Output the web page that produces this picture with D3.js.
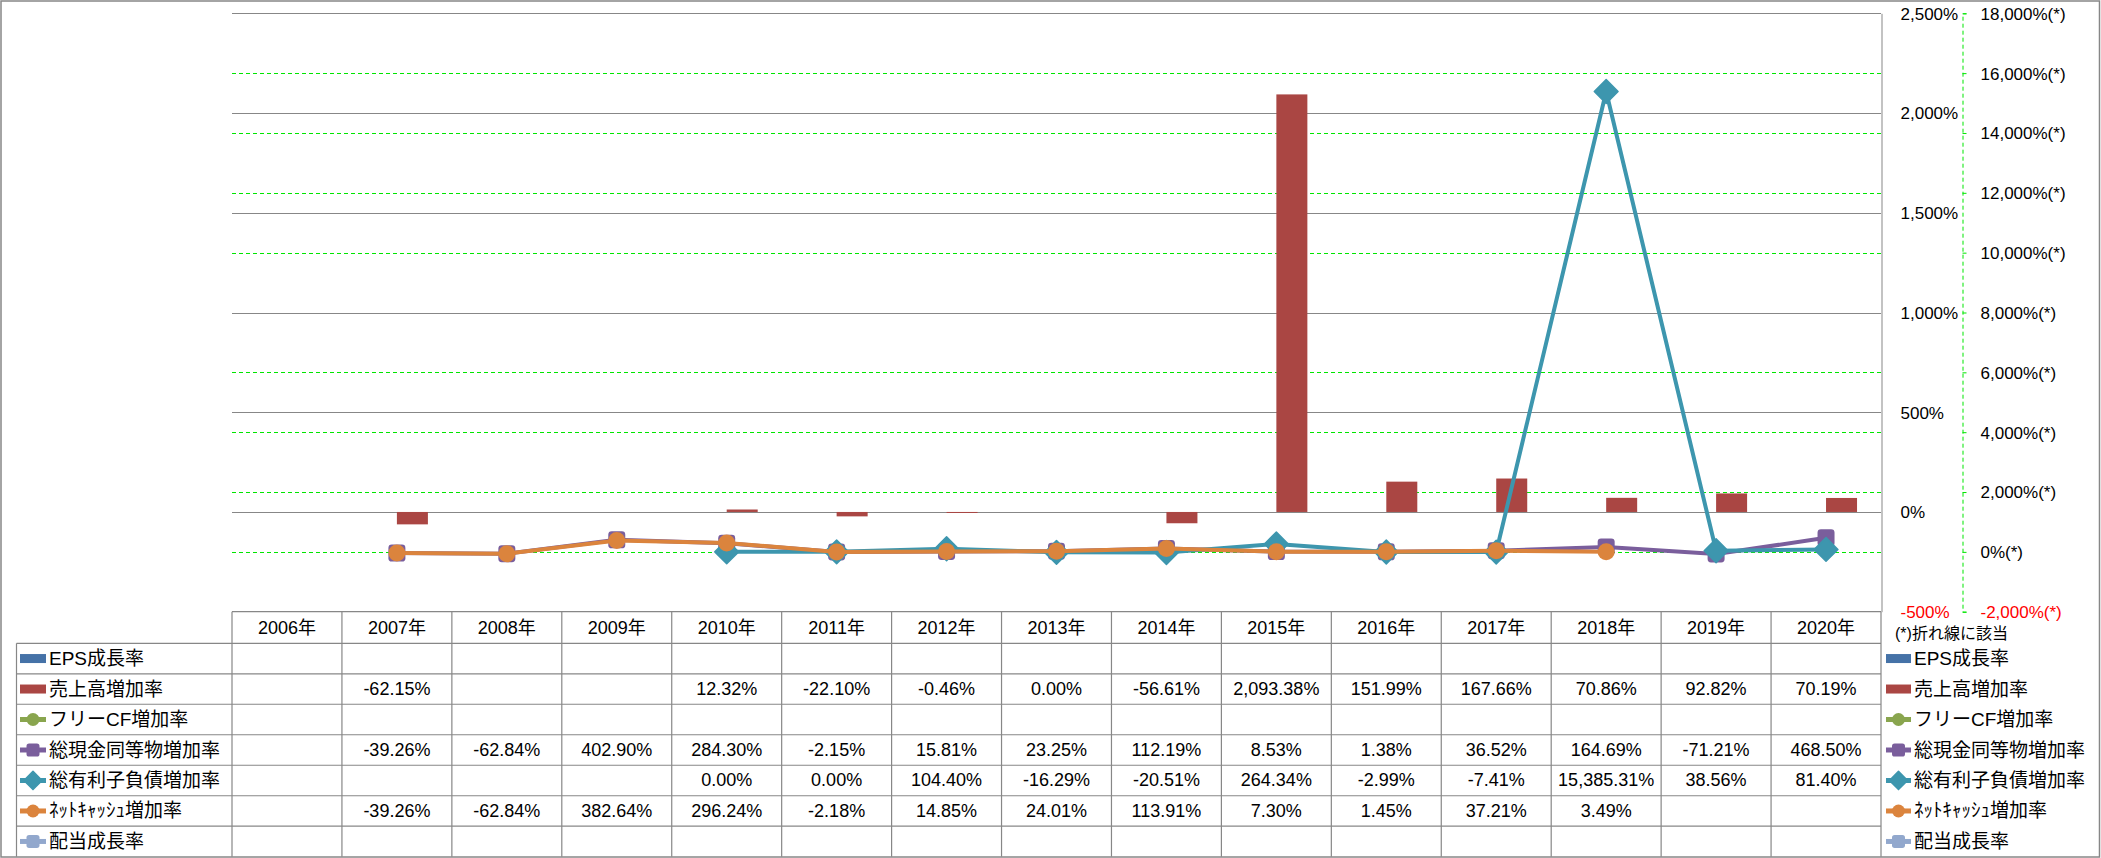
<!DOCTYPE html>
<html><head><meta charset="utf-8">
<script src="https://cdn.jsdelivr.net/npm/d3@7"></script>
<style>
html,body{margin:0;padding:0;background:#fff;}
svg{display:block;}
text{font-family:"Liberation Sans","Noto Sans CJK JP",sans-serif;fill:#000;}
</style></head><body>
<svg id="chart" width="2101" height="858"></svg>
<script>
// ---------------- data ----------------
const years = ["2006年","2007年","2008年","2009年","2010年","2011年","2012年","2013年","2014年","2015年","2016年","2017年","2018年","2019年","2020年"];
const epsGrowth      = [null,null,null,null,null,null,null,null,null,null,null,null,null,null,null];
const salesGrowth    = [null,-62.15,null,null,12.32,-22.10,-0.46,0.00,-56.61,2093.38,151.99,167.66,70.86,92.82,70.19];
const fcfGrowth      = [null,null,null,null,null,null,null,null,null,null,null,null,null,null,null];
const cashGrowth     = [null,-39.26,-62.84,402.90,284.30,-2.15,15.81,23.25,112.19,8.53,1.38,36.52,164.69,-71.21,468.50];
const debtGrowth     = [null,null,null,null,0.00,0.00,104.40,-16.29,-20.51,264.34,-2.99,-7.41,15385.31,38.56,81.40];
const netCashGrowth  = [null,-39.26,-62.84,382.64,296.24,-2.18,14.85,24.01,113.91,7.30,1.45,37.21,3.49,null,null];
const dividendGrowth = [null,null,null,null,null,null,null,null,null,null,null,null,null,null,null];
const seriesNames = ["EPS成長率","売上高増加率","フリーCF増加率","総現金同等物増加率","総有利子負債増加率","ﾈｯﾄｷｬｯｼｭ増加率","配当成長率"];
const leftTicks  = [-500,0,500,1000,1500,2000,2500];
const rightTicks = [-2000,0,2000,4000,6000,8000,10000,12000,14000,16000,18000];
const axisNote = "(*)折れ線に該当";
const rightSuffix = "(*)";

// ---------------- styling / config ----------------
const seriesValues = [epsGrowth, salesGrowth, fcfGrowth, cashGrowth, debtGrowth, netCashGrowth, dividendGrowth];
const seriesColors = ["#4572A7","#AA4643","#89A54E","#7A5E9C","#3D96AE","#DB843D","#92A8CD"];
const seriesKind   = ["bar","bar","line","line","line","line","line"];
const seriesMarker = [null,null,"circle","square","diamond","circle","square"];

const W = 2101, H = 858;
const plotL = 232, plotR = 1881, plotT = 13.3, plotB = 611.7;
const tableB = 856.7, headerB = 643.3, legendColL = 16.5;
const gray = "#878787", lime = "#00E600";

const loc = d3.formatLocale({decimal:".", thousands:",", grouping:[3], currency:["",""], minus:"-"});
const fmtVal = v => loc.format(",.2f")(v) + "%";
const fmtTick = v => loc.format(",")(v) + "%";

const svg = d3.select("#chart");

const x = d3.scaleBand().domain(years).range([plotL, plotR]).paddingInner(0).paddingOuter(0);
const yL = d3.scaleLinear().domain([-500, 2500]).range([plotB, plotT]);
const yR = d3.scaleLinear().domain([-2000, 18000]).range([plotB, plotT]);
const barNames = seriesNames.filter((n,i)=>seriesKind[i]==="bar");
const xSub = d3.scaleBand().domain(barNames).range([0, x.bandwidth()]).paddingInner(0).paddingOuter(0.773);
const rows = d3.scaleBand().domain(seriesNames).range([headerB, tableB]);

// outer border
svg.append("rect").attr("x",1).attr("y",1).attr("width",W-2.5).attr("height",H-2)
  .attr("fill","none").attr("stroke",gray).attr("stroke-width",1.5);

// secondary gridlines (green dashed)
svg.append("g").selectAll("line").data(rightTicks.slice(1,-1)).join("line")
  .attr("x1",plotL).attr("x2",plotR)
  .attr("y1",d=>Math.round(yR(d))+0.5).attr("y2",d=>Math.round(yR(d))+0.5)
  .attr("stroke",lime).attr("stroke-width",1).attr("stroke-dasharray","4,3");

// primary gridlines (gray)
svg.append("g").selectAll("line").data(leftTicks.slice(1)).join("line")
  .attr("x1",plotL).attr("x2",plotR)
  .attr("y1",d=>Math.round(yL(d))+0.5).attr("y2",d=>Math.round(yL(d))+0.5)
  .attr("stroke",gray).attr("stroke-width",1);

// bars
seriesNames.forEach((name,i)=>{
  if (seriesKind[i] !== "bar") return;
  const vals = seriesValues[i];
  svg.append("g").selectAll("rect")
    .data(years.map((yr,j)=>({yr, v: vals[j]})).filter(d=>d.v!=null))
    .join("rect")
    .attr("x", d=>x(d.yr)+xSub(name))
    .attr("width", xSub.bandwidth())
    .attr("y", d=>yL(Math.max(0,d.v)))
    .attr("height", d=>Math.max(Math.abs(yL(d.v)-yL(0)), d.v===0?0:1))
    .attr("fill", seriesColors[i]);
});

// markers
function drawMarker(g, type, cx, cy, size, color){
  if (type === "circle") {
    g.append("circle").attr("cx",cx).attr("cy",cy).attr("r",size/2).attr("fill",color);
  } else if (type === "square") {
    g.append("rect").attr("x",cx-size/2).attr("y",cy-size/2).attr("width",size).attr("height",size)
      .attr("rx",size*0.2).attr("fill",color);
  } else if (type === "diamond") {
    const h = size*0.7;
    g.append("path").attr("d",`M${cx},${cy-h}L${cx+h},${cy}L${cx},${cy+h}L${cx-h},${cy}Z`).attr("fill",color)
      .attr("stroke",color).attr("stroke-width",1.5).attr("stroke-linejoin","round");
  }
}
const markerSize = {circle:17, square:17, diamond:17};

// lines
seriesNames.forEach((name,i)=>{
  if (seriesKind[i] !== "line") return;
  const vals = seriesValues[i];
  const pts = years.map((yr,j)=>({yr, v: vals[j]}));
  const g = svg.append("g");
  const line = d3.line().defined(d=>d.v!=null)
    .x(d=>x(d.yr)+x.bandwidth()/2).y(d=>yR(d.v));
  g.append("path").datum(pts).attr("d",line).attr("fill","none")
    .attr("stroke",seriesColors[i]).attr("stroke-width",4).attr("stroke-linejoin","round");
  pts.filter(d=>d.v!=null).forEach(d=>{
    drawMarker(g, seriesMarker[i], x(d.yr)+x.bandwidth()/2, yR(d.v), markerSize[seriesMarker[i]], seriesColors[i]);
  });
});

// primary axis (right of plot)
const axL = d3.axisRight(yL).tickValues(leftTicks).tickSize(0).tickSizeOuter(0).tickPadding(19).tickFormat(fmtTick);
const gL = svg.append("g").attr("transform",`translate(${plotR+0.5},0)`).call(axL);
gL.select(".domain").attr("stroke",gray).attr("stroke-width",1);
gL.selectAll("text").attr("font-size",17).attr("dy","0.35em")
  .style("fill",d=>d<0?"#FF0000":"#000");
gL.attr("font-family",null);

// secondary axis
const axR = d3.axisRight(yR).tickValues(rightTicks).tickSize(4).tickSizeOuter(4).tickPadding(14)
  .tickFormat(d=>fmtTick(d)+rightSuffix);
const gR = svg.append("g").attr("transform",`translate(1962.5,0)`).call(axR);
gR.attr("font-family",null);
gR.select(".domain").attr("stroke",lime).attr("stroke-width",1).attr("stroke-dasharray","4,3");
gR.selectAll(".tick line").attr("stroke",lime);
gR.selectAll("text").attr("font-size",17).attr("dy","0.35em")
  .style("fill",d=>d<0?"#FF0000":"#000");

// ---------------- data table ----------------
const tg = svg.append("g");
tg.append("line").attr("x1",plotL).attr("x2",plotR).attr("y1",plotB).attr("y2",plotB)
  .attr("stroke",gray).attr("stroke-width",1.2);
seriesNames.forEach(n=>{
  tg.append("line").attr("x1",legendColL).attr("x2",plotR).attr("y1",rows(n)).attr("y2",rows(n))
    .attr("stroke",gray).attr("stroke-width",1.2);
});
years.forEach(yr=>{
  tg.append("line").attr("x1",x(yr)).attr("x2",x(yr)).attr("y1",plotB).attr("y2",tableB)
    .attr("stroke",gray).attr("stroke-width",1.2);
});
tg.append("line").attr("x1",plotR).attr("x2",plotR).attr("y1",plotB).attr("y2",tableB)
  .attr("stroke",gray).attr("stroke-width",1.2);
tg.append("line").attr("x1",legendColL).attr("x2",legendColL).attr("y1",headerB).attr("y2",tableB)
  .attr("stroke",gray).attr("stroke-width",1.2);

tg.selectAll("text.hdr").data(years).join("text").attr("class","hdr")
  .attr("x",d=>x(d)+x.bandwidth()/2).attr("y",(plotB+headerB)/2)
  .attr("text-anchor","middle").attr("dominant-baseline","central").attr("font-size",18)
  .text(d=>d);

seriesNames.forEach((n,i)=>{
  const cy = rows(n)+rows.bandwidth()/2;
  seriesValues[i].forEach((v,j)=>{
    if (v==null) return;
    tg.append("text").attr("x",x(years[j])+x.bandwidth()/2).attr("y",cy)
      .attr("text-anchor","middle").attr("dominant-baseline","central").attr("font-size",18)
      .text(fmtVal(v));
  });
});

function legendKey(g, i, x0, x1, cy){
  const c = seriesColors[i];
  if (seriesKind[i]==="bar") {
    g.append("rect").attr("x",x0).attr("y",cy-4.5).attr("width",x1-x0).attr("height",9).attr("fill",c);
  } else {
    g.append("line").attr("x1",x0).attr("x2",x1).attr("y1",cy).attr("y2",cy).attr("stroke",c).attr("stroke-width",5);
    drawMarker(g, seriesMarker[i], (x0+x1)/2, cy, 13, c);
  }
}
seriesNames.forEach((n,i)=>{
  const cy = rows(n)+rows.bandwidth()/2;
  legendKey(tg, i, 20, 46, cy);
  tg.append("text").attr("x",49).attr("y",cy).attr("dominant-baseline","central").attr("font-size",19).text(n);
  legendKey(tg, i, 1886, 1911, cy);
  tg.append("text").attr("x",1914).attr("y",cy).attr("dominant-baseline","central").attr("font-size",19).text(n);
});

svg.append("text").attr("x",1895).attr("y",633).attr("dominant-baseline","central").attr("font-size",16).text(axisNote);
</script>
</body></html>
